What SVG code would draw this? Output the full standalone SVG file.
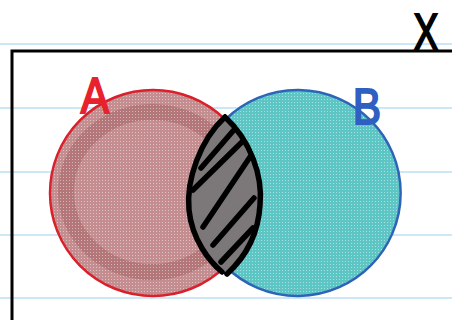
<svg xmlns="http://www.w3.org/2000/svg" width="452" height="320" viewBox="0 0 452 320">
<defs>
<pattern id="dots" width="3" height="3" patternUnits="userSpaceOnUse">
<rect x="0" y="0" width="1" height="1" fill="#fff" opacity="0.45"/>
</pattern>
<clipPath id="clipA"><circle cx="153" cy="193" r="103"/></clipPath>
</defs>
<style>
.rule{stroke:#cde7f7;stroke-width:2}
.lab{font-family:"Liberation Sans",Arial,sans-serif}
.hatch{stroke:#000;stroke-width:5.5;stroke-linecap:round;fill:none}
</style>
<rect width="452" height="320" fill="#fff"/>
<g id="paper">
<line class="rule" x1="0" y1="44" x2="452" y2="44"/>
<line class="rule" x1="0" y1="108" x2="452" y2="108"/>
<line class="rule" x1="0" y1="172" x2="452" y2="172"/>
<line class="rule" x1="0" y1="235" x2="452" y2="235"/>
<line class="rule" x1="0" y1="298" x2="452" y2="298"/>
</g>
<g id="universe">
<path d="M12 320 V51 H452" fill="none" stroke="#000" stroke-width="3"/>
<text class="lab" x="0" y="0" font-size="52" text-anchor="middle" fill="#000" stroke="#000" stroke-width="2" transform="translate(426 50) scale(0.72 1)">X</text>
</g>
<g id="setA">
<circle cx="153" cy="193" r="103" fill="#c48e90"/>
<ellipse cx="152" cy="192" rx="86" ry="80" fill="none" stroke="#a56466" stroke-width="16" opacity="0.55" clip-path="url(#clipA)"/>
<circle cx="153" cy="193" r="103" fill="url(#dots)"/>
<circle cx="153" cy="193" r="103" fill="none" stroke="#d9202b" stroke-width="2.5"/>
<text class="lab" x="0" y="0" font-size="50" text-anchor="middle" fill="#e8222c" stroke="#e8222c" stroke-width="2" transform="translate(95 113) scale(0.85 1)">A</text>
</g>
<g id="setB">
<path d="M226 119 A103 103 0 1 1 226 267 A103 103 0 0 0 226 119 Z" fill="#5ec5c5"/>
<path d="M226 119 A103 103 0 1 1 226 267 A103 103 0 0 0 226 119 Z" fill="url(#dots)"/>
<path d="M226 119 A103 103 0 1 1 226 267" fill="none" stroke="#2d64b8" stroke-width="2.5"/>
<text class="lab" x="0" y="0" font-size="50" text-anchor="middle" fill="#2f5fc0" stroke="#2f5fc0" stroke-width="2" transform="translate(367 124) scale(0.85 1)">B</text>
</g>
<g id="intersection">
<path d="M225 117 C200 140 186 180 189 210 C192 240 210 262 222 272 L227 274 C240 262 258 240 260 205 C263 175 250 140 225 117 Z" fill="#7c7879"/>
<path d="M225 117 C200 140 186 180 189 210 C192 240 210 262 222 272 M225 117 C250 140 263 175 260 205 C258 240 240 262 227 274" class="hatch" stroke-width="6"/>
<line class="hatch" x1="201" y1="168" x2="233" y2="131"/>
<line class="hatch" x1="193" y1="190" x2="243" y2="141"/>
<line class="hatch" x1="203" y1="227" x2="250" y2="157"/>
<line class="hatch" x1="213" y1="245" x2="254" y2="198"/>
<line class="hatch" x1="221" y1="262" x2="253" y2="228"/>
</g>
</svg>
